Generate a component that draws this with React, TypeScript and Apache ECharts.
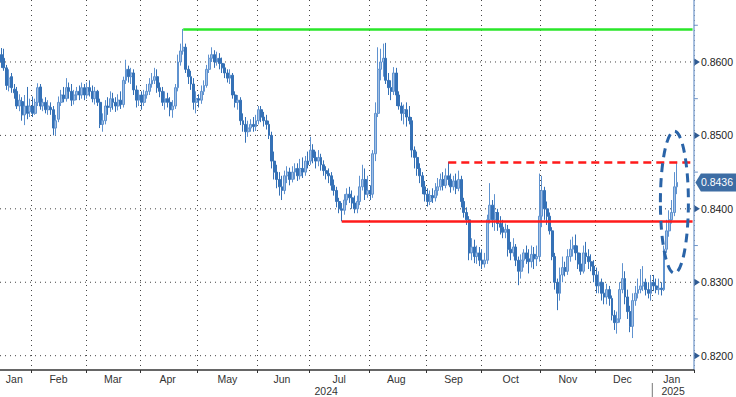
import React, { useEffect, useRef } from "react";
import * as echarts from "echarts";

// ---------- data (prices in 1/10000 units, i.e. 8600 = 0.8600) ----------
const START = [2024, 0, 16]; // first trading day shown (Jan 16, 2024)
const PAD_DAYS = 6; // empty weekdays on the right edge
const SCALE = 10000;

const opens = [
  8610,8605,8592,8566,8580,8563,8560,8540,8546,8528,8540,8532,
  8540,8530,8545,8566,8540,8545,8535,8538,8535,8510,8522,8545,8555,8550,8565,8560,8548,8555,8560,8555,8565,
  8555,8565,8560,8550,8560,8545,8515,8520,8540,8538,8550,8545,8540,8548,8542,8575,8590,8580,8585,8562,8548,
  8555,8545,8555,8560,8570,8575,8580,8565,8560,8545,8550,8545,8535,8540,8565,8600,8615,8620,8590,8580,8570,8545,
  8550,8548,8560,8568,8590,8605,8610,8600,8605,8598,8592,8585,8578,8582,8555,8545,8548,8520,8515,8505,8510,8515,8512,
  8520,8535,8525,8520,8515,8500,8465,8450,8440,8430,8425,8445,8450,8440,8450,8455,8445,8455,8450,8465,
  8465,8480,8470,8465,8470,8460,8452,8448,8445,8432,8425,8410,8400,8398,8412,8420,8415,8408,8400,8410,8430,8440,8420,
  8425,8420,8475,8530,8590,8600,8605,8575,8565,8560,8585,8555,8540,8530,8535,8525,8520,8480,8470,8455,8445,8430,
  8420,8410,8418,8415,8425,8430,8440,8432,8445,8440,8430,8438,8428,8440,8410,8395,8385,8340,8348,8335,8340,
  8330,8325,8330,8385,8405,8385,8395,8380,8375,8368,8372,8345,8340,8348,8330,8315,8330,8340,8332,8328,8338,8332,8335,
  8390,8425,8400,8390,8370,8335,8300,8285,8310,8320,8315,8335,8345,8350,8340,8325,8315,8340,8335,8328,8322,
  8310,8295,8300,8285,8280,8290,8278,8255,8245,8250,8290,8305,8280,8260,8240,8275,8285,8290,8295,8300,8290,8285,
  8300,8295,8290,8292,8290,8345,8370,8385,8395,8430,
];
const closes = [
  8600,8592,8568,8578,8565,8558,8540,8548,8528,8540,8530,8540,
  8530,8545,8565,8540,8545,8535,8540,8535,8510,8520,8545,8555,8550,8565,8560,8548,8555,8560,8555,8565,8555,
  8565,8560,8550,8560,8545,8515,8520,8540,8538,8550,8545,8540,8548,8542,8575,8590,8580,8585,8562,8548,8555,
  8545,8555,8560,8570,8575,8580,8565,8560,8545,8550,8545,8535,8540,8565,8600,8615,8620,8590,8580,8570,8545,8550,
  8548,8560,8568,8590,8605,8610,8600,8605,8598,8592,8585,8578,8582,8555,8545,8548,8520,8515,8505,8510,8515,8512,8520,
  8535,8525,8520,8515,8500,8465,8450,8440,8430,8425,8445,8450,8440,8450,8455,8445,8455,8450,8465,8460,
  8480,8470,8465,8470,8460,8452,8448,8445,8432,8425,8410,8400,8398,8412,8420,8415,8408,8400,8410,8430,8440,8420,8425,
  8420,8475,8530,8590,8600,8605,8575,8565,8560,8585,8555,8540,8530,8535,8525,8520,8480,8470,8455,8445,8430,8420,
  8410,8418,8415,8425,8430,8440,8432,8445,8440,8430,8438,8428,8440,8410,8395,8385,8340,8348,8335,8340,8330,
  8325,8330,8385,8405,8385,8395,8380,8375,8368,8372,8345,8340,8348,8330,8315,8330,8340,8332,8328,8338,8332,8335,8390,
  8425,8400,8390,8370,8335,8300,8285,8310,8320,8315,8335,8345,8350,8340,8325,8315,8340,8335,8328,8322,8310,
  8295,8300,8285,8280,8290,8278,8255,8245,8250,8290,8305,8280,8260,8240,8275,8285,8290,8295,8300,8290,8285,8300,
  8295,8290,8292,8290,8345,8370,8385,8395,8430,8436,
];
const highs = [
  8619,8618,8596,8590,8585,8570,8566,8556,8552,8555,8566,8550,
  8553,8550,8571,8570,8550,8552,8548,8545,8540,8528,8553,8562,8566,8578,8572,8570,8562,8566,8568,8572,8570,
  8572,8575,8568,8566,8562,8550,8530,8548,8552,8560,8558,8552,8556,8560,8580,8603,8595,8592,8590,8568,8562,
  8560,8562,8570,8578,8585,8592,8590,8572,8566,8560,8558,8552,8548,8570,8610,8625,8645,8625,8595,8588,8578,8560,
  8556,8568,8575,8596,8610,8620,8616,8614,8612,8606,8598,8590,8590,8585,8560,8555,8552,8530,8525,8520,8522,8525,8528,
  8540,8540,8532,8528,8520,8505,8478,8460,8450,8445,8452,8458,8456,8458,8462,8462,8468,8470,8472,8478,
  8498,8488,8478,8480,8475,8466,8458,8455,8450,8440,8430,8415,8408,8420,8428,8430,8425,8418,8418,8445,8460,8455,8445,
  8432,8480,8545,8620,8618,8625,8626,8585,8575,8593,8592,8560,8545,8542,8545,8540,8525,8485,8478,8462,8450,8438,
  8428,8425,8428,8435,8442,8448,8450,8455,8464,8448,8445,8448,8452,8445,8415,8402,8390,8360,8358,8350,8348,
  8345,8340,8392,8435,8412,8420,8400,8390,8385,8380,8378,8355,8360,8352,8335,8338,8345,8350,8345,8350,8348,8350,8448,
  8445,8430,8410,8395,8375,8340,8305,8320,8335,8328,8345,8358,8362,8365,8350,8340,8350,8355,8345,8338,8330,
  8320,8315,8305,8300,8298,8295,8282,8262,8260,8300,8326,8315,8290,8268,8285,8295,8305,8318,8322,8305,8300,8310,
  8310,8305,8305,8300,8350,8385,8398,8412,8450,8464,
];
const lows = [
  8592,8588,8562,8560,8558,8550,8536,8533,8520,8514,8522,8525,
  8525,8528,8540,8535,8533,8530,8528,8528,8500,8500,8518,8540,8545,8546,8550,8540,8542,8548,8548,8550,8548,
  8550,8553,8545,8542,8540,8510,8505,8515,8528,8532,8535,8532,8534,8536,8538,8570,8572,8570,8555,8538,8540,
  8535,8540,8550,8555,8565,8570,8558,8552,8540,8535,8538,8526,8524,8536,8560,8595,8610,8585,8570,8562,8535,8530,
  8538,8543,8555,8565,8585,8600,8592,8595,8590,8585,8578,8572,8570,8550,8538,8535,8514,8505,8490,8498,8505,8505,8506,
  8515,8518,8512,8508,8495,8455,8440,8428,8418,8412,8420,8435,8432,8436,8440,8438,8440,8442,8445,8455,
  8460,8462,8455,8458,8452,8445,8440,8435,8425,8418,8402,8394,8383,8392,8405,8408,8400,8394,8394,8405,8425,8412,8415,
  8412,8415,8465,8525,8575,8580,8570,8555,8548,8555,8540,8535,8520,8515,8512,8515,8470,8455,8445,8435,8420,8410,
  8403,8405,8408,8410,8418,8425,8425,8428,8432,8422,8425,8420,8424,8402,8388,8378,8330,8330,8326,8325,8322,
  8318,8320,8325,8380,8375,8370,8370,8365,8360,8360,8335,8330,8335,8322,8296,8305,8320,8325,8312,8320,8318,8322,8328,
  8375,8385,8378,8365,8330,8290,8262,8275,8300,8308,8310,8328,8335,8330,8318,8310,8312,8325,8318,8315,8300,
  8285,8285,8275,8270,8270,8268,8248,8235,8230,8245,8285,8270,8250,8232,8224,8268,8278,8285,8288,8282,8278,8275,
  8288,8285,8283,8282,8288,8340,8362,8380,8390,8420,
];

const MONTHS = ["Jan", "Feb", "Mar", "Apr", "May", "Jun", "Jul", "Aug", "Sep", "Oct", "Nov", "Dec"];
const yMajorTicks = [8200, 8300, 8400, 8500, 8600];
const yMinorTicks = [8250, 8350, 8450, 8550, 8650];
const Y_MIN = 0.81805;
const Y_MAX = 0.86844;

// horizontal level lines: value, index where the line starts
const levelValues = [8645, 8464, 8383];
const levelStarts = [70, 172, 131];
const levelColors = ["#2ae62a", "#ff1a1a", "#ff1a1a"];
const levelDashed = [false, true, false];

// highlighted zone (dashed ellipse) anchor: day index & price
const ellipseAnchor = { index: 259, value: 8409 };

const FONT = "'Liberation Sans', Arial, sans-serif";

function buildDates(count: number): string[] {
  const out: string[] = [];
  const d = new Date(Date.UTC(START[0], START[1], START[2]));
  while (out.length < count) {
    const wd = d.getUTCDay();
    if (wd !== 0 && wd !== 6) out.push(d.toISOString().slice(0, 10));
    d.setUTCDate(d.getUTCDate() + 1);
  }
  return out;
}

export default function App() {
  const ref = useRef<HTMLDivElement>(null);

  useEffect(() => {
    if (!ref.current) return;
    const chart = echarts.init(ref.current, undefined, { renderer: "svg" });
    const N = closes.length;
    const dates = buildDates(N + PAD_DAYS);

    const monthStarts = new Set<number>();
    const groups: { first: number; last: number }[] = [];
    dates.forEach((d, i) => {
      if (i === 0 || d.slice(0, 7) !== dates[i - 1].slice(0, 7)) {
        if (i > 0) monthStarts.add(i);
        groups.push({ first: i, last: i });
      } else {
        groups[groups.length - 1].last = i;
      }
    });
    const labelIdx = new Set<number>(groups.map((g) => Math.round((g.first + g.last) / 2 - 0.01)));

    const candle = dates.map((_, i) =>
      i < N ? [opens[i] / SCALE, closes[i] / SCALE, lows[i] / SCALE, highs[i] / SCALE] : "-"
    );

    const lastCat = dates[dates.length - 1];
    const levelData = levelValues.map((v, k) => [
      {
        coord: [dates[levelStarts[k]], v / SCALE],
        lineStyle: {
          color: levelColors[k],
          width: 2.6,
          type: levelDashed[k] ? [8, 5] : "solid",
        },
      },
      { coord: [lastCat, v / SCALE] },
    ]);

    const option: any = {
      animation: false,
      backgroundColor: "#ffffff",
      grid: { left: 0, right: 41, top: 0, bottom: 27, containLabel: false },
      xAxis: {
        type: "category",
        data: dates,
        boundaryGap: true,
        axisLine: { show: true, lineStyle: { color: "#333", width: 1.5 } },
        axisTick: {
          show: true,
          interval: (i: number) => monthStarts.has(i),
          length: 3,
          lineStyle: { color: "#333" },
        },
        axisLabel: {
          interval: (i: number) => labelIdx.has(i),
          formatter: (v: string) => MONTHS[parseInt(v.slice(5, 7), 10) - 1],
          color: "#333",
          fontFamily: FONT,
          fontSize: 10.5,
          margin: 3,
        },
        splitLine: {
          show: true,
          interval: (i: number) => monthStarts.has(i),
          lineStyle: { color: "#444", type: [1, 4], width: 1 },
        },
      },
      yAxis: {
        type: "value",
        position: "right",
        min: Y_MIN,
        max: Y_MAX,
        splitNumber: 5,
        axisLine: { show: true, lineStyle: { color: "#8aaad4", width: 1.5 } },
        axisTick: { show: false },
        splitLine: { show: false },
        axisLabel: {
          showMinLabel: false,
          showMaxLabel: false,
          formatter: (v: number) =>
            Math.abs(v * 100 - Math.round(v * 100)) < 1e-6 ? v.toFixed(4) : "",
          margin: 7,
          color: "#222",
          fontFamily: FONT,
          fontSize: 10.5,
        },
      },
      series: [
        {
          type: "candlestick",
          data: candle,
          barWidth: 2.4,
          itemStyle: {
            color: "#a3c0e4",
            color0: "#3571b6",
            borderColor: "#5f92cf",
            borderColor0: "#3571b6",
            borderWidth: 1,
          },
          markLine: {
            silent: true,
            symbol: ["none", "none"],
            label: { show: false },
            data: levelData,
          },
        },
      ],
    };
    chart.setOption(option);

    // second pass: annotations positioned through the chart's own scales
    const yPx = (v: number) => chart.convertToPixel({ yAxisIndex: 0 }, v) as number;
    const xPx = (i: number) => chart.convertToPixel({ xAxisIndex: 0 }, dates[i]) as number;
    const bw = xPx(1) - xPx(0);
    const plotLeft = xPx(0) - bw / 2;
    const plotRight = xPx(dates.length - 1) + bw / 2;
    const plotBottom = yPx(Y_MIN);

    const elements: any[] = [];
    yMajorTicks.forEach((t) => {
      const y = yPx(t / SCALE);
      elements.push({
        type: "line",
        silent: true,
        z: 0,
        shape: { x1: plotLeft, y1: y, x2: plotRight, y2: y },
        style: { stroke: "#444", lineWidth: 1, lineDash: [1, 4] },
      });
      elements.push({
        type: "polygon",
        silent: true,
        z: 5,
        shape: { points: [[plotRight + 0.5, y - 3.5], [plotRight + 6, y], [plotRight + 0.5, y + 3.5]] },
        style: { fill: "#2f5a92" },
      });
    });
    yMinorTicks.forEach((t) => {
      const y = yPx(t / SCALE);
      elements.push({
        type: "line",
        silent: true,
        z: 5,
        shape: { x1: plotRight, y1: y, x2: plotRight + 4, y2: y },
        style: { stroke: "#6f93c6", lineWidth: 1 },
      });
    });

    // year labels centred on each year's span
    const years: { y: string; first: number; last: number }[] = [];
    dates.forEach((d, i) => {
      const yr = d.slice(0, 4);
      if (!years.length || years[years.length - 1].y !== yr) years.push({ y: yr, first: i, last: i });
      else years[years.length - 1].last = i;
    });
    years.forEach((yr, k) => {
      const x0 = xPx(yr.first) - bw / 2;
      const x1 = xPx(yr.last) + bw / 2;
      elements.push({
        type: "text",
        silent: true,
        x: (x0 + x1) / 2,
        y: plotBottom + 21,
        style: {
          text: yr.y,
          fill: "#333",
          font: `10.5px ${FONT}`,
          align: "center",
          verticalAlign: "middle",
          textAlign: "center",
          textVerticalAlign: "middle",
        },
      });
      if (k > 0) {
        elements.push({
          type: "line",
          silent: true,
          shape: { x1: x0, y1: plotBottom + 13, x2: x0, y2: plotBottom + 27 },
          style: { stroke: "#777", lineWidth: 1 },
        });
      }
    });

    // dashed ellipse highlight
    const ex = xPx(ellipseAnchor.index);
    const ey = yPx(ellipseAnchor.value / SCALE);
    elements.push({
      type: "ellipse",
      silent: true,
      z: 20,
      shape: { cx: ex, cy: ey, rx: 14, ry: 71 },
      style: { fill: "none", stroke: "#2a64a8", lineWidth: 3, lineDash: [9, 6] },
    });

    // last price tag
    const lastVal = closes[N - 1] / SCALE;
    const ly = yPx(lastVal);
    const tx = plotRight + 1.5;
    elements.push({
      type: "polygon",
      silent: true,
      z: 30,
      shape: {
        points: [[tx, ly], [tx + 5.5, ly - 9], [736, ly - 9], [736, ly + 9], [tx + 5.5, ly + 9]],
      },
      style: { fill: "#3d6da4" },
    });
    elements.push({
      type: "text",
      silent: true,
      z: 31,
      x: plotRight + 7,
      y: ly,
      style: {
        text: lastVal.toFixed(4),
        fill: "#ffffff",
        font: `10.5px ${FONT}`,
        align: "left",
        verticalAlign: "middle",
        textAlign: "left",
        textVerticalAlign: "middle",
      },
    });

    chart.setOption({ graphic: { elements } });

    return () => chart.dispose();
  }, []);

  return (
    <div
      ref={ref}
      style={{ position: "fixed", left: 0, top: 0, width: 736, height: 397, background: "#fff" }}
    />
  );
}
